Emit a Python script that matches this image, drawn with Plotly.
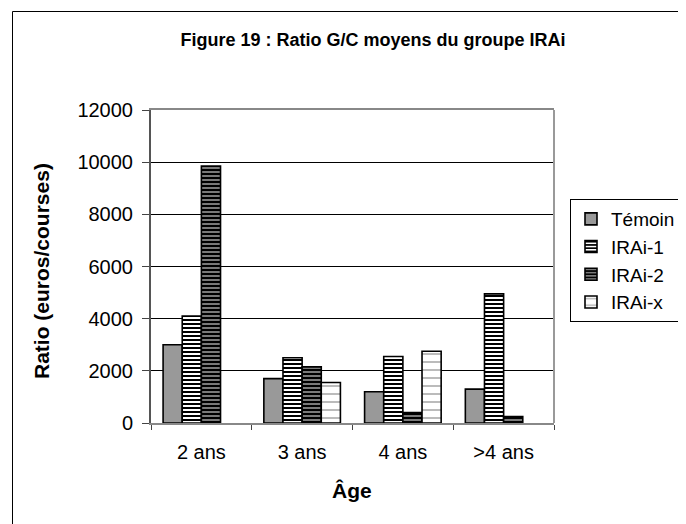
import plotly.graph_objects as go

categories = ["2 ans", "3 ans", "4 ans", ">4 ans"]
temoin = [3000, 1700, 1200, 1300]
irai1 = [4100, 2500, 2550, 4950]
irai2 = [9850, 2150, 400, 250]
iraix = [None, 1550, 2750, None]
y_ticks = [0, 2000, 4000, 6000, 8000, 10000, 12000]

FONT = "Arial, Liberation Sans, sans-serif"
OFF = 8  # page body margin offset
W, H = 686 - OFF, 524 - OFF
# plot area in screenshot px
L, R, T, B = 151, 554, 110, 423

def fx(px):
    return px - OFF

def px2x(px):
    return (px - L) / (R - L)

def px2y(py):
    return (B - py) / (B - T)

fig = go.Figure()
fig.add_bar(name="Témoin", x=categories, y=temoin,
            marker=dict(color="#999999", line=dict(color="black", width=1.6)))
fig.add_bar(name="IRAi-1", x=categories, y=irai1,
            marker=dict(color="white", line=dict(color="black", width=1.6),
                        pattern=dict(shape="-", fgcolor="black", bgcolor="white",
                                     size=4, solidity=0.5, fillmode="replace")))
fig.add_bar(name="IRAi-2", x=categories, y=irai2,
            marker=dict(color="black", line=dict(color="black", width=1.6),
                        pattern=dict(shape="-", fgcolor="#999999", bgcolor="black",
                                     size=4, solidity=0.4, fillmode="replace")))
fig.add_bar(name="IRAi-x", x=categories, y=iraix,
            marker=dict(color="white", line=dict(color="black", width=1.6),
                        pattern=dict(shape="-", fgcolor="#aaaaaa", bgcolor="white",
                                     size=8, solidity=0.2, fillmode="replace")))

fig.update_layout(
    width=W, height=H,
    margin=dict(l=fx(L), r=W - fx(R), t=fx(T), b=H - fx(B), autoexpand=False),
    paper_bgcolor="white", plot_bgcolor="white",
    font=dict(family=FONT, size=20, color="black"),
    barmode="group", bargap=0.24, bargroupgap=0,
    title=dict(text="<b>Figure 19 : Ratio G/C moyens du groupe IRAi</b>",
               x=fx(373) / W, xanchor="center", xref="container",
               y=1 - fx(40) / H, yanchor="middle", yref="container",
               font=dict(size=18, family=FONT, color="black")),
    xaxis=dict(type="category", tickson="boundaries", ticks="outside", ticklen=5,
               tickcolor="#444444", tickwidth=1, showline=True, linecolor="#888888",
               linewidth=2, mirror=True, showgrid=False, tickfont=dict(size=20),
               ticklabelstandoff=10),
    yaxis=dict(range=[0, 12000], tickvals=y_ticks, tickformat="d", ticks="outside",
               ticklen=7, tickcolor="#444444", tickwidth=1, showline=True,
               linecolor="#555555", linewidth=2, mirror=False, showgrid=True,
               gridcolor="black", gridwidth=1, zeroline=False, tickfont=dict(size=20),
               ticklabelstandoff=5),
    legend=dict(x=px2x(570), y=px2y(199), xanchor="left", yanchor="top",
                bordercolor="black", borderwidth=1, font=dict(size=19),
                traceorder="normal", itemwidth=30, tracegroupgap=0),
    showlegend=True,
)

# right border of the plot area (gray)
fig.add_shape(type="line", xref="paper", yref="paper", x0=1, x1=1, y0=0, y1=1,
              line=dict(color="#999999", width=2))

fig.add_annotation(text="<b>Ratio (euros/courses)</b>", textangle=-90,
                   x=px2x(41), y=px2y(271), xref="paper", yref="paper",
                   xanchor="center", yanchor="middle",
                   showarrow=False, font=dict(size=21))
fig.add_annotation(text="<b>Âge</b>",
                   x=px2x(352), y=px2y(490), xref="paper", yref="paper",
                   xanchor="center", yanchor="middle",
                   showarrow=False, font=dict(size=21))

# outer chart border (cropped at right/bottom in the reference)
fig.add_shape(type="rect", xref="paper", yref="paper",
              x0=px2x(12.5), x1=px2x(740), y0=px2y(580), y1=px2y(11.5),
              line=dict(color="black", width=1), fillcolor="rgba(0,0,0,0)", layer="below")

fig.write_html("out.html")
